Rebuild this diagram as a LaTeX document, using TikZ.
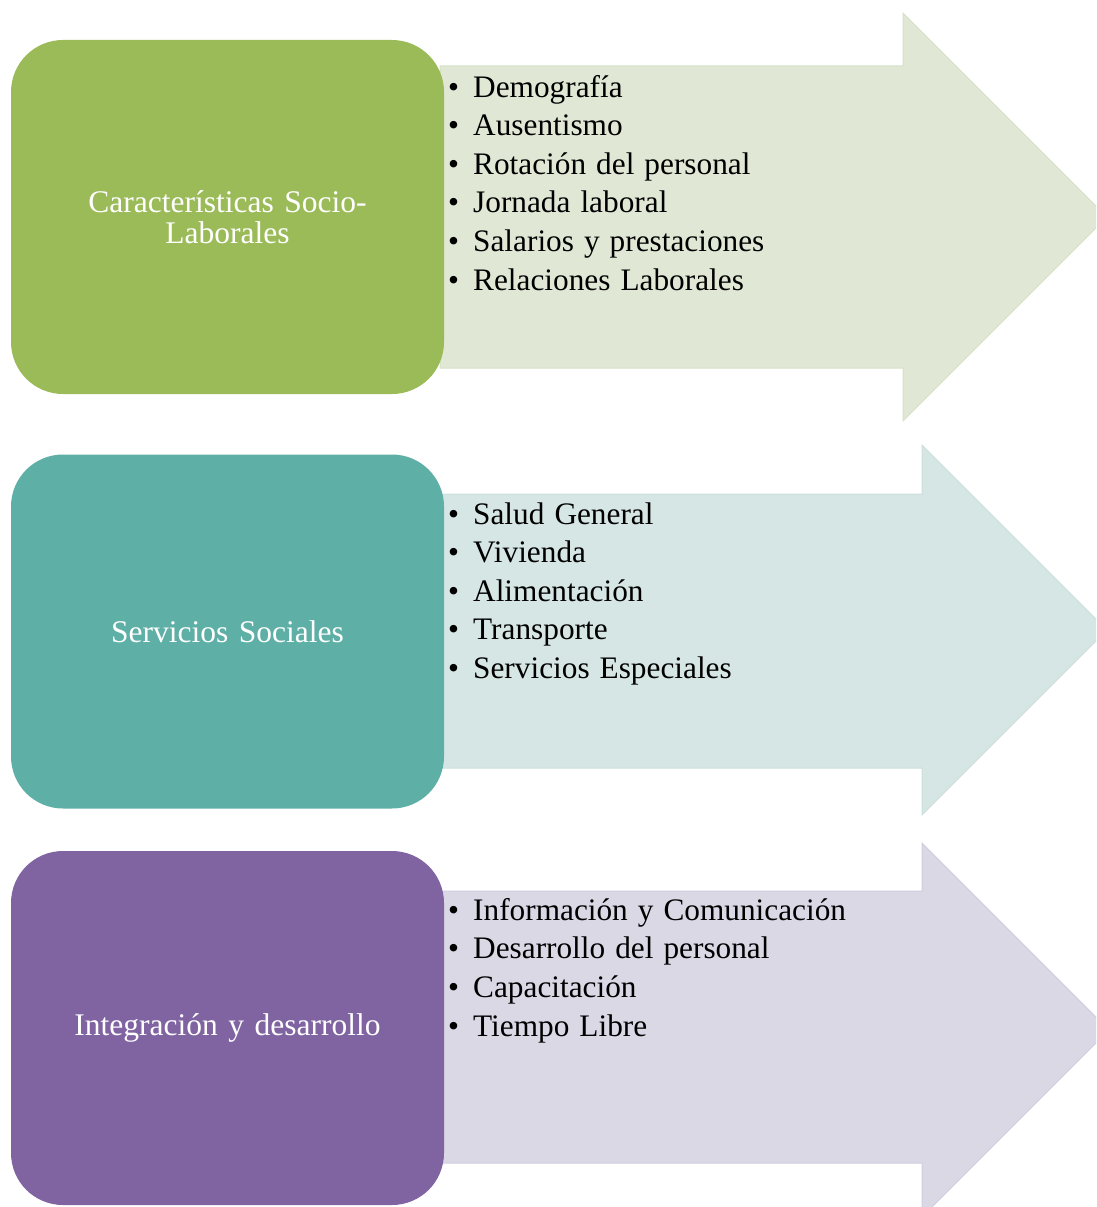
\documentclass[tikz,border=0pt]{standalone}
\usepackage{fontspec}
\setmainfont{Liberation Serif}
\usepackage{xcolor}
\usepackage{tikz}
\usetikzlibrary{positioning}

\definecolor{socioFill}{HTML}{9BBB59}
\definecolor{socioLight}{HTML}{E0E8D5}
\definecolor{socioEdge}{HTML}{D6E1C8}
\definecolor{servFill}{HTML}{5EAFA6}
\definecolor{servLight}{HTML}{D5E6E4}
\definecolor{servEdge}{HTML}{CBDFDC}
\definecolor{integFill}{HTML}{8064A2}
\definecolor{integLight}{HTML}{DAD8E5}
\definecolor{integEdge}{HTML}{D0CDDF}

\newcommand{\bul}{\makebox[25pt][l]{\textbullet}}
\newcommand{\boxfont}{\fontsize{31.5}{31}\selectfont\spaceskip=10.5pt\relax}
\newcommand{\itemfont}{\fontsize{31.3}{38}\selectfont\spaceskip=10pt\relax}

\begin{document}
\begin{tikzpicture}[
        x=1pt, y=-1pt,
        box/.style={rectangle, rounded corners=52pt, minimum width=433pt, minimum height=354pt, text=white, align=center, inner sep=0pt, font=\boxfont},
        item/.style={anchor=base west, inner sep=0pt, font=\itemfont},
        bigarrow/.style={line width=1pt, line join=miter}
      ]
        \useasboundingbox (0,0) rectangle (1096,1207);
        \clip (0,0) rectangle (1096,1207);

        % Arrows behind the boxes
        \filldraw[bigarrow, fill=socioLight, draw=socioEdge] (440,66) -- (903,66) -- (903,13) -- (1107,217) -- (903,421) -- (903,368) -- (440,368) -- cycle;
        \filldraw[bigarrow, fill=servLight, draw=servEdge] (440,494) -- (922,494) -- (922,445) -- (1107,630) -- (922,815) -- (922,768) -- (440,768) -- cycle;
        \filldraw[bigarrow, fill=integLight, draw=integEdge] (440,891) -- (922,891) -- (922,843) -- (1109,1030) -- (922,1217) -- (922,1163) -- (440,1163) -- cycle;

        % Category boxes
        \node[box, fill=socioFill] (socio) at (227.5,217) {\raisebox{-1pt}{Características Socio-}\\\raisebox{-1pt}{Laborales}};
        \node[box, fill=servFill] (serv) at (227.5,631.5) {\raisebox{-2pt}{Servicios Sociales}};
        \node[box, fill=integFill] (integ) at (227.5,1028) {\raisebox{-2pt}{Integración y desarrollo}};

        % Items of each arrow
        \foreach \t [count=\i] in {Demografía, Ausentismo, Rotación del personal, Jornada laboral, Salarios y prestaciones, Relaciones Laborales}
          \node[item] (socio-\i) at (448,97+38.6*\i-38.6) {\bul\t};
        \foreach \t [count=\i] in {Salud General, Vivienda, Alimentación, Transporte, Servicios Especiales}
          \node[item] (serv-\i) at (448,524+38.6*\i-38.6) {\bul\t};
        \foreach \t [count=\i] in {Información y Comunicación, Desarrollo del personal, Capacitación, Tiempo Libre}
          \node[item] (integ-\i) at (448,920+38.9*\i-38.9) {\bul\t};
      \end{tikzpicture}
\end{document}
